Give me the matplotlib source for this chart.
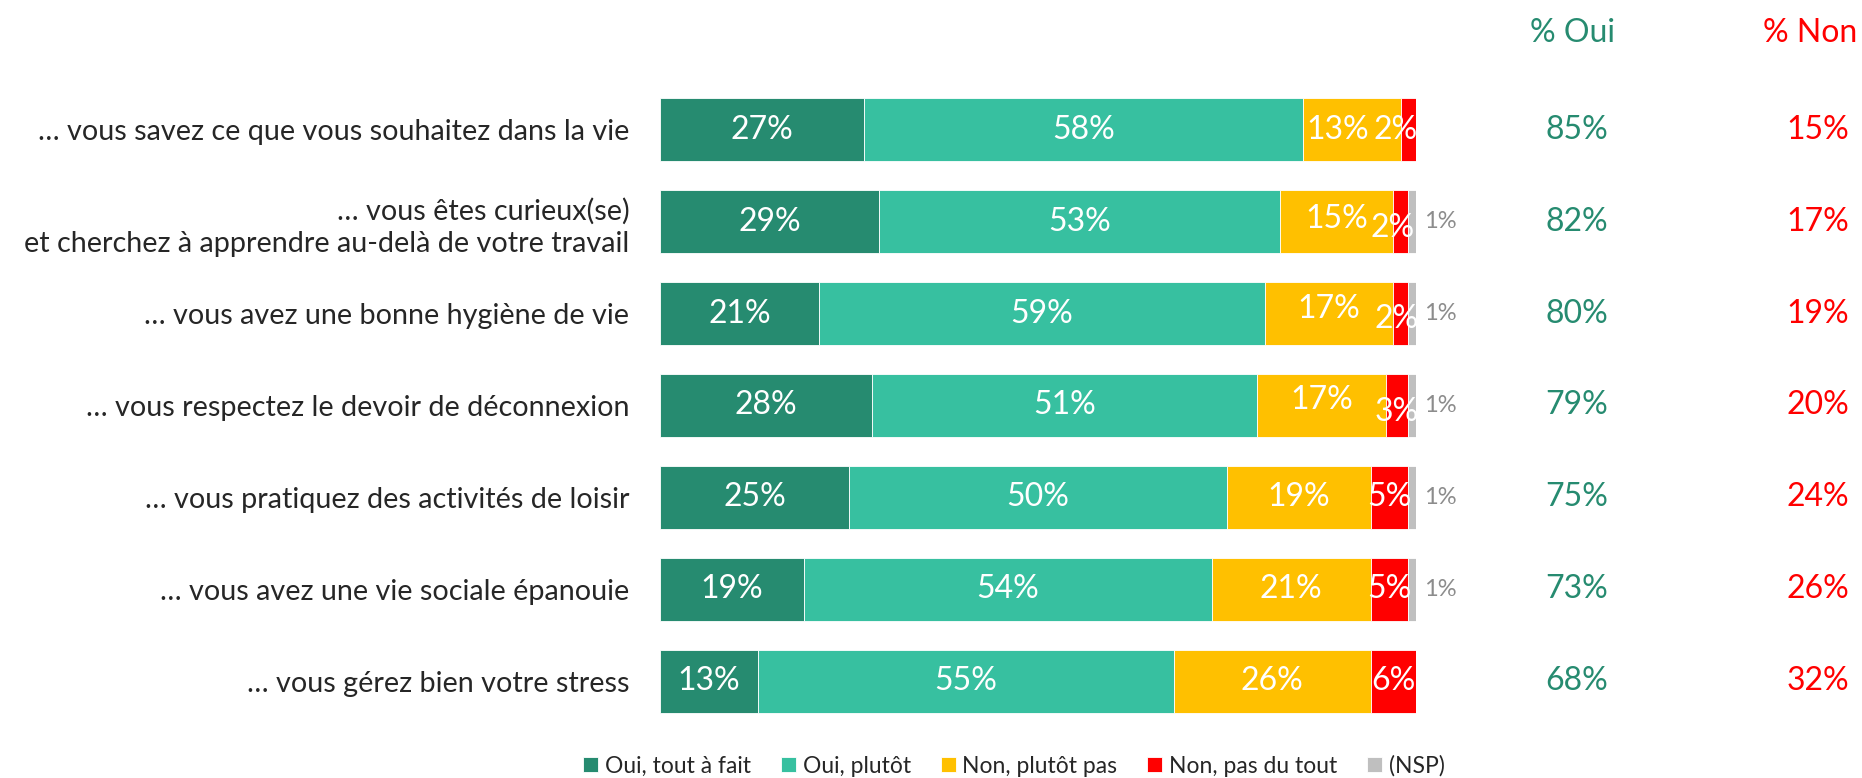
import matplotlib.pyplot as plt
import matplotlib.transforms as mtransforms
import numpy as np

plt.rcParams['font.family'] = ['Lato', 'DejaVu Sans']

categories = [
    "… vous savez ce que vous souhaitez dans la vie",
    "… vous êtes curieux(se)\net cherchez à apprendre au-delà de votre travail",
    "… vous avez une bonne hygiène de vie",
    "… vous respectez le devoir de déconnexion",
    "… vous pratiquez des activités de loisir",
    "… vous avez une vie sociale épanouie",
    "… vous gérez bien votre stress",
]
series = ["Oui, tout à fait", "Oui, plutôt", "Non, plutôt pas", "Non, pas du tout", "(NSP)"]
tout_a_fait = [27, 29, 21, 28, 25, 19, 13]
plutot = [58, 53, 59, 51, 50, 54, 55]
plutot_pas = [13, 15, 17, 17, 19, 21, 26]
pas_du_tout = [2, 2, 2, 3, 5, 5, 6]
nsp = [0, 1, 1, 1, 1, 1, 0]
pct_oui = [85, 82, 80, 79, 75, 73, 68]
pct_non = [15, 17, 19, 20, 24, 26, 32]

colors = ["#268B70", "#37C0A0", "#FFC000", "#FF0000", "#BFBFBF"]
green_txt = "#268B70"
red_txt = "#FF0000"

# small nudges for in-bar labels (points), (row, series) -> (dx, dy)
nudge = {(0, 2): (-10, 0), (0, 3): (-9, 0),
         (1, 2): (0, 2), (1, 3): (-6, -5),
         (2, 2): (0, 3), (2, 3): (-3, -4),
         (3, 2): (0, 4), (3, 3): (0, -5)}

fig = plt.figure(figsize=(18.62, 7.78), dpi=100)
ax = fig.add_axes([660 / 1862, 1 - 727.5 / 778, 756 / 1862, 644 / 778])

data = [tout_a_fait, plutot, plutot_pas, pas_du_tout, nsp]
y = np.arange(len(categories))
left = np.zeros(len(categories))
for j, (vals, col, name) in enumerate(zip(data, colors, series)):
    vals = np.array(vals, dtype=float)
    ax.barh(y, vals, left=left, height=0.685, color=col, edgecolor='white',
            linewidth=0.6, label=name)
    for i, v in enumerate(vals):
        if v <= 0:
            continue
        if j == 4:
            ax.annotate(f"{int(v)}%", (left[i] + v, y[i]), xytext=(6, 0),
                        textcoords='offset points', ha='left', va='center',
                        fontsize=17, color='#8C8C8C')
        else:
            dx, dy = nudge.get((i, j), (0, 0))
            ax.annotate(f"{int(v)}%", (left[i] + v / 2, y[i]), xytext=(dx, dy),
                        textcoords='offset points', ha='center', va='center',
                        fontsize=23, color='white')
    left += vals

ax.set_xlim(0, 100)
ax.set_ylim(len(categories) - 0.5, -0.5)
ax.set_yticks(y)
ax.set_yticklabels(categories, fontsize=20.7, color='#262626', linespacing=1.3,
                   ha='right')
ax.tick_params(axis='y', length=0, pad=22)
ax.set_xticks([])
for s in ax.spines.values():
    s.set_visible(False)

trans = mtransforms.blended_transform_factory(fig.transFigure, ax.transData)
for i in range(len(categories)):
    ax.text(1577 / 1862, y[i], f"{pct_oui[i]}%", transform=trans, ha='center',
            va='center', fontsize=23, color=green_txt)
    ax.text(1818 / 1862, y[i], f"{pct_non[i]}%", transform=trans, ha='center',
            va='center', fontsize=23, color=red_txt)
fig.text(1572 / 1862, 1 - 33 / 778, "% Oui", ha='center', va='center',
         fontsize=23, color=green_txt)
fig.text(1810 / 1862, 1 - 33 / 778, "% Non", ha='center', va='center',
         fontsize=23, color=red_txt)

fig.legend(loc='center', bbox_to_anchor=(1014 / 1862, 1 - 766 / 778), ncol=5,
           frameon=False, fontsize=16.5, handlelength=0.65, handleheight=0.65,
           handletextpad=0.3, columnspacing=1.3, labelcolor='#262626')

fig.savefig('out.png', dpi=100)
